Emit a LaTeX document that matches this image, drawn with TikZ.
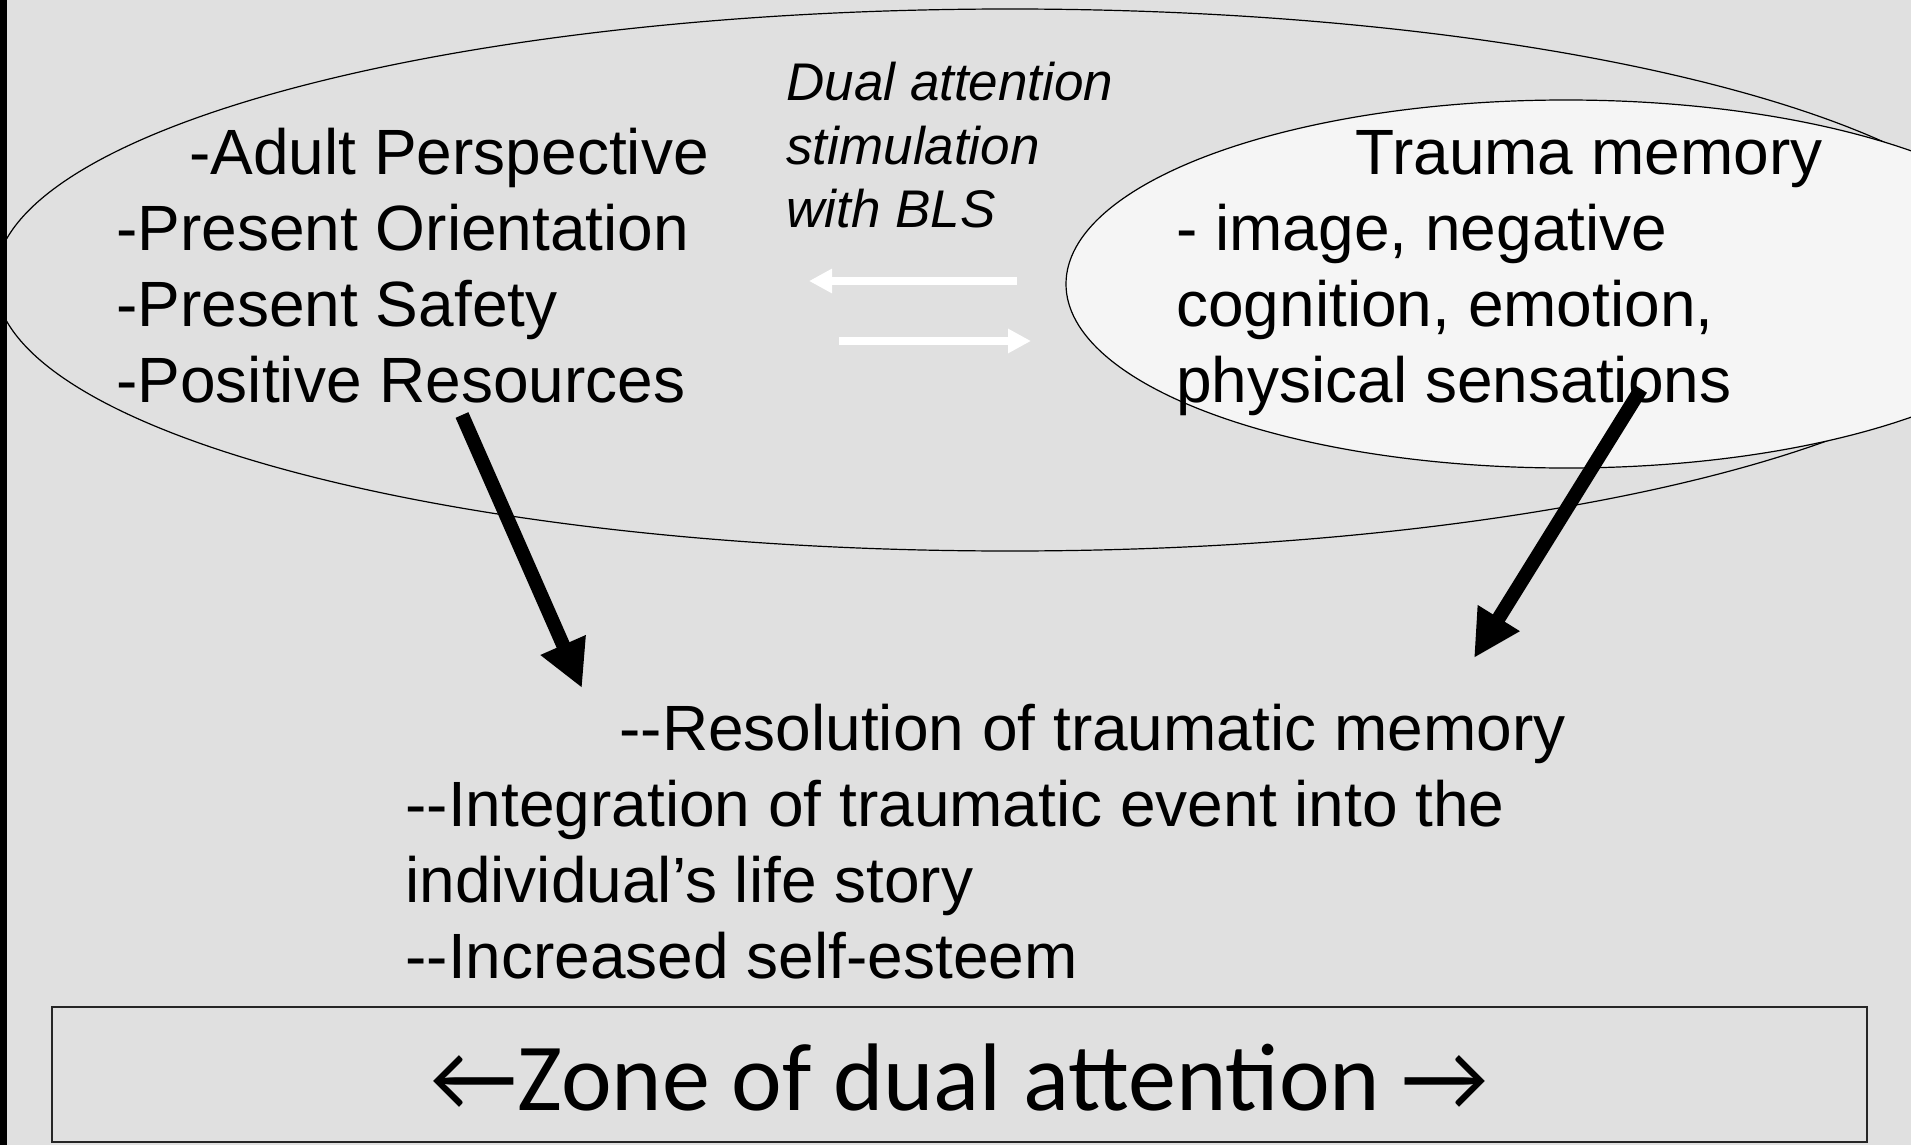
\documentclass[tikz,border=0pt]{standalone}
\usepackage{fontspec}
\setmainfont{Liberation Sans}[Ligatures=TeXOff]
\newfontfamily\zonefont{Carlito}
\usetikzlibrary{arrows.meta,shapes.geometric}
\definecolor{bggray}{HTML}{E0E0E0}
\definecolor{memfill}{HTML}{F5F5F5}
\begin{document}
\begin{tikzpicture}[x=0.5pt,y=-0.5pt,
  bigtext/.style={font=\fontsize{32}{38}\selectfont, align=left, anchor=base west, inner sep=0pt},
  smalltext/.style={font=\fontsize{26.5}{31.5}\selectfont\itshape, align=left, anchor=base west, inner sep=0pt},
  outline/.style={ellipse, draw=black, line width=0.6pt, inner sep=0pt},
  bigarrow/.style={draw=black, line width=7pt, -{Triangle[length=23.5pt,width=23pt]}},
  whitearrow/.style={draw=white, line width=4pt, -{Triangle[length=11.5pt,width=11.5pt]}},
  zoneframe/.style={draw=black!85, line width=1pt, minimum width=907.5pt, minimum height=67.5pt, inner sep=0pt},
  zonetext/.style={font=\zonefont\fontsize{48}{56}\selectfont, anchor=base, inner sep=0pt}
]
\useasboundingbox (0,0) rectangle (1911,1145);
\fill[bggray] (0,0) rectangle (1911,1145);
\fill[black] (0,0) rectangle (7,1145);

\node[outline, minimum width=1015pt, minimum height=271pt] (outer) at (1010,280) {};
\node[outline, fill=memfill, minimum width=500pt, minimum height=184pt] (trauma) at (1566,284) {};

% anchors are at the baseline of the last line of each block
\node[bigtext] (adult) at (116,402) {\hspace*{36.5pt}-Adult Perspective\\-Present Orientation\\-Present Safety\\-Positive Resources};
\node[smalltext] (dual) at (786,227) {Dual attention\\stimulation\\with BLS};
\node[bigtext] (memtext) at (1176,402) {\hspace*{89.5pt}Trauma memory\\- image, negative\\cognition, emotion,\\physical sensations};
\node[bigtext] (result) at (405,978) {\hspace*{107pt}--Resolution of traumatic memory\\--Integration of traumatic event into the\\individual’s life story\\--Increased self-esteem};

\coordinate (wls) at (1017,281);
\coordinate (wlt) at (809,281);
\coordinate (wrs) at (839,341);
\coordinate (wrt) at (1031,341);
\draw[whitearrow] (wls) -- (wlt);
\draw[whitearrow] (wrs) -- (wrt);

\coordinate (ls) at (462,415);
\coordinate (lt) at (582,688);
\coordinate (rs) at (1641,389);
\coordinate (rt) at (1474,658);
\draw[bigarrow] (ls) -- (lt);
\draw[bigarrow] (rs) -- (rt);

\node[zoneframe] (zonebox) at (959.5,1074.5) {};
\node[zonetext] (zonelabel) at (960,1110) {←Zone of dual attention →};
\end{tikzpicture}
\end{document}
